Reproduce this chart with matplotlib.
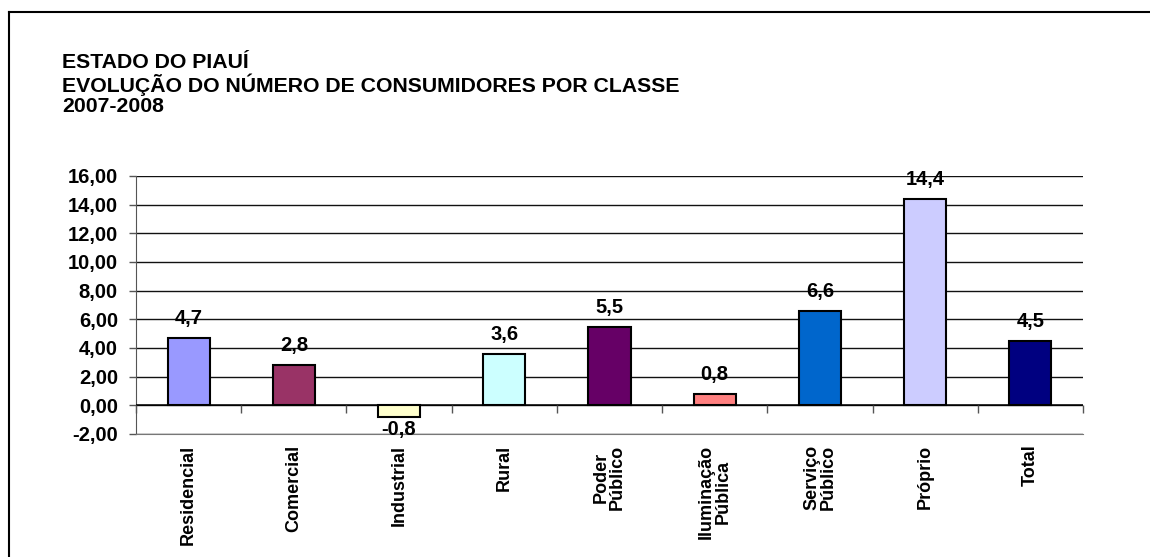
import matplotlib
matplotlib.use("Agg")
import matplotlib.pyplot as plt

categories = ["Residencial", "Comercial", "Industrial", "Rural", "Poder\nPúblico",
              "Iluminação\nPública", "Serviço\nPúblico", "Próprio", "Total"]
values = [4.7, 2.8, -0.8, 3.6, 5.5, 0.8, 6.6, 14.4, 4.5]
colors = ["#9999FF", "#993366", "#FFFFCC", "#CCFFFF", "#660066",
          "#FF8080", "#0066CC", "#CCCCFF", "#000080"]
yticks = [-2, 0, 2, 4, 6, 8, 10, 12, 14, 16]
ytick_labels = ["-2,00", "0,00", "2,00", "4,00", "6,00", "8,00", "10,00", "12,00", "14,00", "16,00"]
title_lines = ["ESTADO DO PIAUÍ", "EVOLUÇÃO DO NÚMERO DE CONSUMIDORES POR CLASSE", "2007-2008"]

plt.rcParams['font.family'] = ['Liberation Sans', 'DejaVu Sans']

W, H = 1150, 557
fig = plt.figure(figsize=(W / 100, H / 100), dpi=100)
fig.patch.set_facecolor("white")

# outer frame (left and top visible)
fig.add_artist(plt.Line2D([8.5 / W, 8.5 / W], [0, 1 - 11.5 / H], color="black", lw=1.5, transform=fig.transFigure))
fig.add_artist(plt.Line2D([8.5 / W, 1.0], [1 - 11.5 / H, 1 - 11.5 / H], color="black", lw=1.5, transform=fig.transFigure))

for i, line in enumerate(title_lines):
    fig.text(62 / W, 1 - (62 + 22.5 * i) / H, line, fontsize=15.3, fontweight="bold",
             ha="left", va="center")

ax = fig.add_axes([136 / W, 1 - 434 / H, (1083 - 136) / W, (434 - 176) / H])
x = list(range(len(categories)))
ax.bar(x, values, width=0.4, color=colors, edgecolor="black", linewidth=1.5, zorder=3)

ax.set_xlim(-0.5, len(categories) - 0.5)
ax.set_ylim(-2, 16)
ax.set_yticks(yticks)
ax.set_yticklabels(ytick_labels, fontsize=14.5, fontweight="bold")
ax.tick_params(axis="y", length=5, width=1, color="#555555", pad=8)
ax.set_xticks([])
ax.grid(axis="y", color="#111111", linewidth=1.0, zorder=0)
for s in ["top", "right"]:
    ax.spines[s].set_visible(False)
ax.spines["left"].set_color("#555555")
ax.spines["bottom"].set_color("#777777")
ax.axhline(0, color="black", linewidth=1.1, zorder=4)

# category separator ticks below zero line
bounds = [k - 0.5 for k in range(len(categories) + 1)]
ax.vlines(bounds, -0.5, 0, color="#555555", linewidth=1, zorder=4, clip_on=False)

for xi, v in zip(x, values):
    txt = f"{v:.1f}".replace(".", ",")
    if v >= 0:
        ax.annotate(txt, (xi, v), xytext=(0, 7), textcoords="offset points",
                    ha="center", va="bottom", fontsize=14.5, fontweight="bold")
    else:
        ax.annotate(txt, (xi, v), xytext=(0, -2), textcoords="offset points",
                    ha="center", va="top", fontsize=14.5, fontweight="bold")

for xi, c in zip(x, categories):
    ax.text(xi, -2.75, c, rotation=90, ha="center", va="top", fontsize=13,
            fontweight="bold", multialignment="center", linespacing=0.95)

fig.savefig("out.png", dpi=100)
